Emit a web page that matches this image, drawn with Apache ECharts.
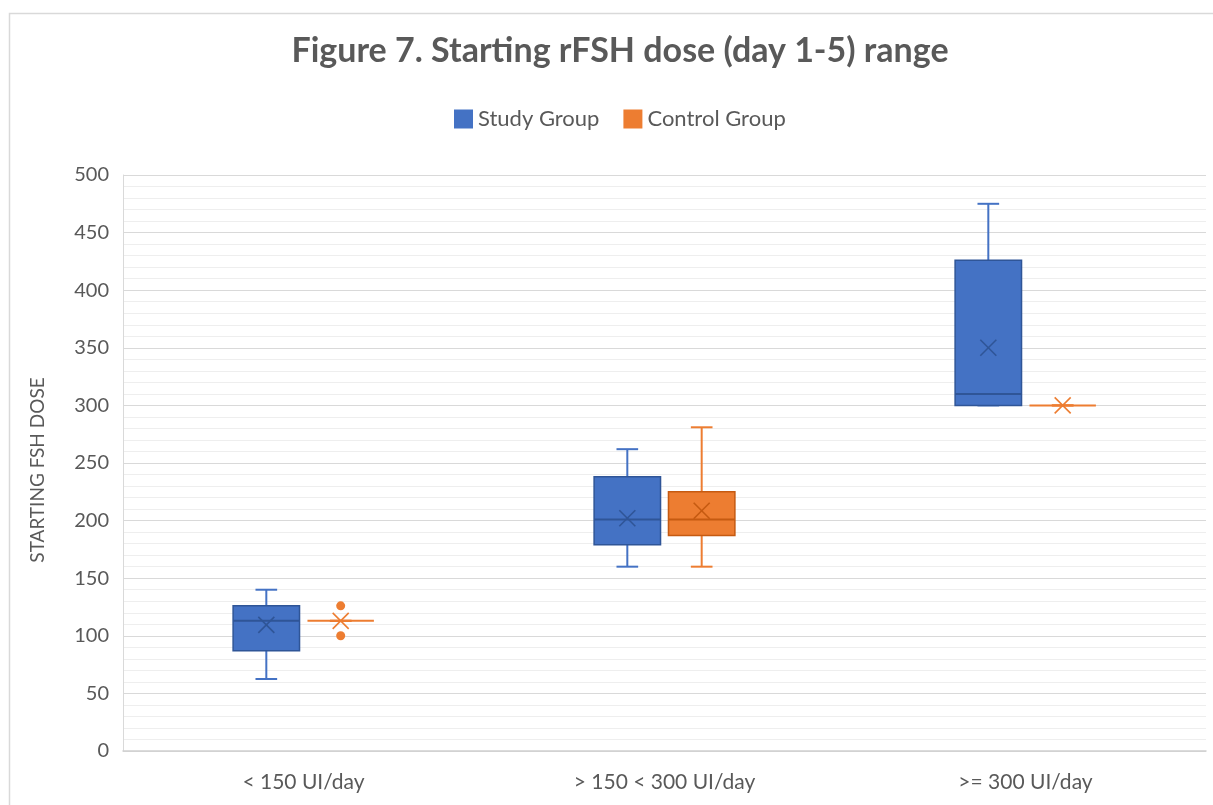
<!DOCTYPE html>
<html><head><meta charset="utf-8">
<script src="https://cdn.jsdelivr.net/npm/echarts@6/dist/echarts.min.js"></script>
<style>html,body{margin:0;padding:0;background:#fff}#c{width:1213px;height:805px}</style>
</head><body><div id="c"></div>
<script>
const categories = ['< 150 UI/day', '> 150 < 300 UI/day', '>= 300 UI/day'];
// [min, Q1, median, Q3, max]
const studyBox = [[62.5, 87, 113, 126, 140], [160, 179, 201, 238, 262], [300, 300, 310, 426, 475]];
const studyMean = [109.5, 202, 350];
const controlBox = [[113, 113, 113, 113, 113], [160, 187, 201, 225, 281], [300, 300, 300, 300, 300]];
const controlMean = [113, 208.5, 300];
const controlOutliers = [[0, 126], [0, 100]];
const yTicks = { min: 0, max: 500, interval: 50 };

const FONT = 'Lato, "Open Sans", sans-serif';
const TXT = '#595959';

function boxData(box, mean) {
  return box.map((b, i) => [i, b[0], b[1], b[2], b[3], b[4], mean[i]]);
}

function boxRender(fill, line, dark, sign) {
  return function (params, api) {
    const cat = api.value(0);
    const band = api.size([1, 0])[0];
    const off = sign * band * 0.103;
    const x = api.coord([cat, 0])[0] + off;
    const y = v => api.coord([cat, v])[1];
    const lo = y(api.value(1)), q1 = y(api.value(2)), med = y(api.value(3)),
          q3 = y(api.value(4)), hi = y(api.value(5)), mean = y(api.value(6));
    const bw = band * 0.184, cw = band * 0.06, xs = 8;
    const ls = { stroke: line, lineWidth: 2 };
    const ch = [];
    ch.push({ type: 'line', shape: { x1: x, y1: hi, x2: x, y2: q3 }, style: ls });
    ch.push({ type: 'line', shape: { x1: x, y1: q1, x2: x, y2: lo }, style: ls });
    ch.push({ type: 'line', shape: { x1: x - cw / 2, y1: hi, x2: x + cw / 2, y2: hi }, style: ls });
    ch.push({ type: 'line', shape: { x1: x - cw / 2, y1: lo, x2: x + cw / 2, y2: lo }, style: ls });
    if (q1 - q3 > 0.5) {
      ch.push({ type: 'rect', shape: { x: x - bw / 2, y: q3, width: bw, height: q1 - q3 },
        style: { fill: fill, stroke: dark, lineWidth: 1.5 } });
      ch.push({ type: 'line', shape: { x1: x - bw / 2, y1: med, x2: x + bw / 2, y2: med },
        style: { stroke: dark, lineWidth: 2 } });
    } else {
      ch.push({ type: 'line', shape: { x1: x - bw / 2, y1: med, x2: x + bw / 2, y2: med },
        style: { stroke: line, lineWidth: 2 } });
    }
    const xc = (q1 - q3 > 0.5) ? dark : line;
    ch.push({ type: 'line', shape: { x1: x - xs, y1: mean - xs, x2: x + xs, y2: mean + xs }, style: { stroke: xc, lineWidth: 1.6 } });
    ch.push({ type: 'line', shape: { x1: x - xs, y1: mean + xs, x2: x + xs, y2: mean - xs }, style: { stroke: xc, lineWidth: 1.6 } });
    return { type: 'group', children: ch };
  };
}

function outlierRender(color, sign) {
  return function (params, api) {
    const cat = api.value(0);
    const band = api.size([1, 0])[0];
    const p = api.coord([cat, api.value(1)]);
    return { type: 'circle', shape: { cx: p[0] + sign * band * 0.103, cy: p[1], r: 4.5 }, style: { fill: color } };
  };
}

const chart = echarts.init(document.getElementById('c'), null, { renderer: 'canvas' });
chart.setOption({
  backgroundColor: '#fff',
  animation: false,
  textStyle: { fontFamily: FONT },
  graphic: [{ type: 'rect', shape: { x: 9.5, y: 13.5, width: 1220, height: 820 },
    style: { fill: 'none', stroke: '#d9d9d9', lineWidth: 1.5 }, silent: true }],
  title: {
    text: 'Figure 7. Starting rFSH dose (day 1-5) range',
    left: 615, top: 29, textAlign: 'center',
    textStyle: { fontFamily: FONT, fontSize: 34, fontWeight: 'bold', color: TXT }
  },
  legend: {
    data: ['Study Group', 'Control Group'],
    left: 449, top: 103, icon: 'rect', itemWidth: 19, itemHeight: 19, itemGap: 24,
    textStyle: { fontFamily: FONT, fontSize: 22, color: TXT }
  },
  grid: { left: 123, right: 7, top: 175, bottom: 54, containLabel: false },
  xAxis: {
    type: 'category', data: categories,
    axisLine: { lineStyle: { color: '#d0d0d0', width: 1.5 } },
    axisTick: { show: false },
    axisLabel: { fontFamily: FONT, fontSize: 21, color: TXT, margin: 21 },
    splitLine: { show: false }
  },
  yAxis: {
    type: 'value', min: yTicks.min, max: yTicks.max, interval: yTicks.interval,
    name: 'STARTING FSH DOSE', nameLocation: 'middle', nameGap: 76, nameRotate: 90,
    nameTextStyle: { fontFamily: FONT, fontSize: 19, color: TXT, padding: [0, 14, 0, 0] },
    axisLine: { show: true, lineStyle: { color: '#d9d9d9', width: 1 } },
    axisTick: { show: false },
    axisLabel: { fontFamily: FONT, fontSize: 20, color: TXT, margin: 14 },
    splitLine: { lineStyle: { color: '#d9d9d9', width: 1.2 } },
    minorTick: { show: false, splitNumber: 5 },
    minorSplitLine: { show: true, lineStyle: { color: '#eeeeee', width: 1.2 } }
  },
  series: [
    { name: 'Study Group', type: 'custom', itemStyle: { color: '#4472C4' },
      renderItem: boxRender('#4472C4', '#4472C4', '#2F5597', -1),
      encode: { x: 0, y: [1, 2, 3, 4, 5] }, data: boxData(studyBox, studyMean) },
    { name: 'Control Group', type: 'custom', itemStyle: { color: '#ED7D31' },
      renderItem: boxRender('#ED7D31', '#ED7D31', '#C55A11', 1),
      encode: { x: 0, y: [1, 2, 3, 4, 5] }, data: boxData(controlBox, controlMean) },
    { name: 'Control Group', type: 'custom', itemStyle: { color: '#ED7D31' },
      renderItem: outlierRender('#ED7D31', 1),
      encode: { x: 0, y: 1 }, data: controlOutliers }
  ]
});
</script></body></html>
